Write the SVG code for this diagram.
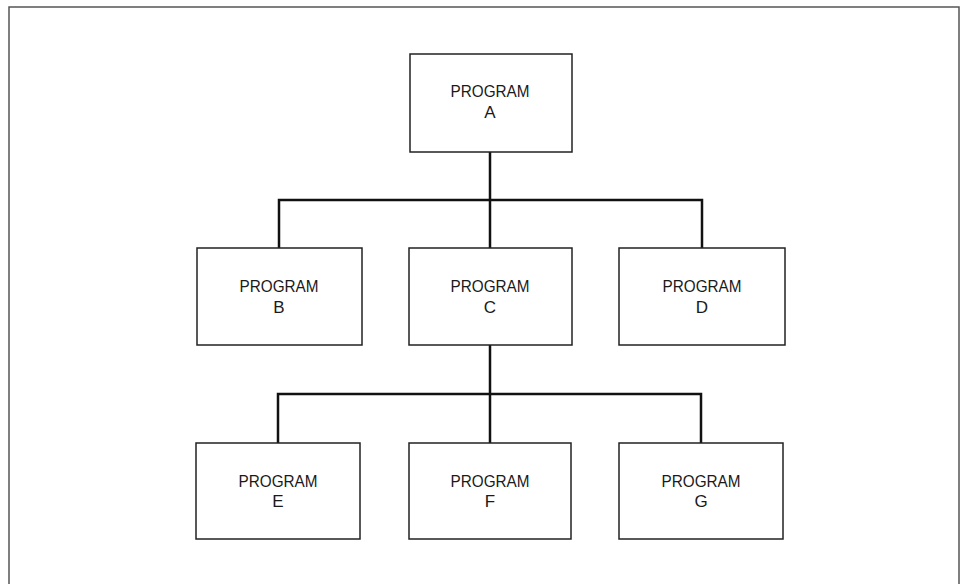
<svg xmlns="http://www.w3.org/2000/svg" width="961" height="584" viewBox="0 0 961 584">
<style>
.frame{fill:none;stroke:#555;stroke-width:1.5}
.box{fill:#fff;stroke:#222;stroke-width:1.5}
.conn{fill:none;stroke:#111;stroke-width:2.5}
.lbl{font-family:"Liberation Sans",Arial,sans-serif;font-size:17px;fill:#1a1a1a;text-anchor:middle}
</style>
<rect width="961" height="584" fill="#fff"/>
<path class="frame" d="M9,584 V7 H959 V584"/>
<g id="connectors">
<path class="conn" d="M490,152 V443"/>
<path class="conn" d="M279,248 V200 H702 V248"/>
<path class="conn" d="M278,443 V394 H701 V443"/>
</g>
<g id="nodeA"><rect class="box" x="410" y="54" width="162" height="98"/><text class="lbl" x="490" y="97" textLength="79" lengthAdjust="spacingAndGlyphs">PROGRAM</text><text class="lbl" x="490" y="118">A</text></g>
<g id="nodeB"><rect class="box" x="197" y="248" width="165" height="97"/><text class="lbl" x="279" y="292" textLength="79" lengthAdjust="spacingAndGlyphs">PROGRAM</text><text class="lbl" x="279" y="313">B</text></g>
<g id="nodeC"><rect class="box" x="409" y="248" width="163" height="97"/><text class="lbl" x="490" y="292" textLength="79" lengthAdjust="spacingAndGlyphs">PROGRAM</text><text class="lbl" x="490" y="313">C</text></g>
<g id="nodeD"><rect class="box" x="619" y="248" width="166" height="97"/><text class="lbl" x="702" y="292" textLength="79" lengthAdjust="spacingAndGlyphs">PROGRAM</text><text class="lbl" x="702" y="313">D</text></g>
<g id="nodeE"><rect class="box" x="196" y="443" width="164" height="96"/><text class="lbl" x="278" y="487" textLength="79" lengthAdjust="spacingAndGlyphs">PROGRAM</text><text class="lbl" x="278" y="507">E</text></g>
<g id="nodeF"><rect class="box" x="409" y="443" width="162" height="96"/><text class="lbl" x="490" y="487" textLength="79" lengthAdjust="spacingAndGlyphs">PROGRAM</text><text class="lbl" x="490" y="507">F</text></g>
<g id="nodeG"><rect class="box" x="619" y="443" width="164" height="96"/><text class="lbl" x="701" y="487" textLength="79" lengthAdjust="spacingAndGlyphs">PROGRAM</text><text class="lbl" x="701" y="507">G</text></g>
</svg>
